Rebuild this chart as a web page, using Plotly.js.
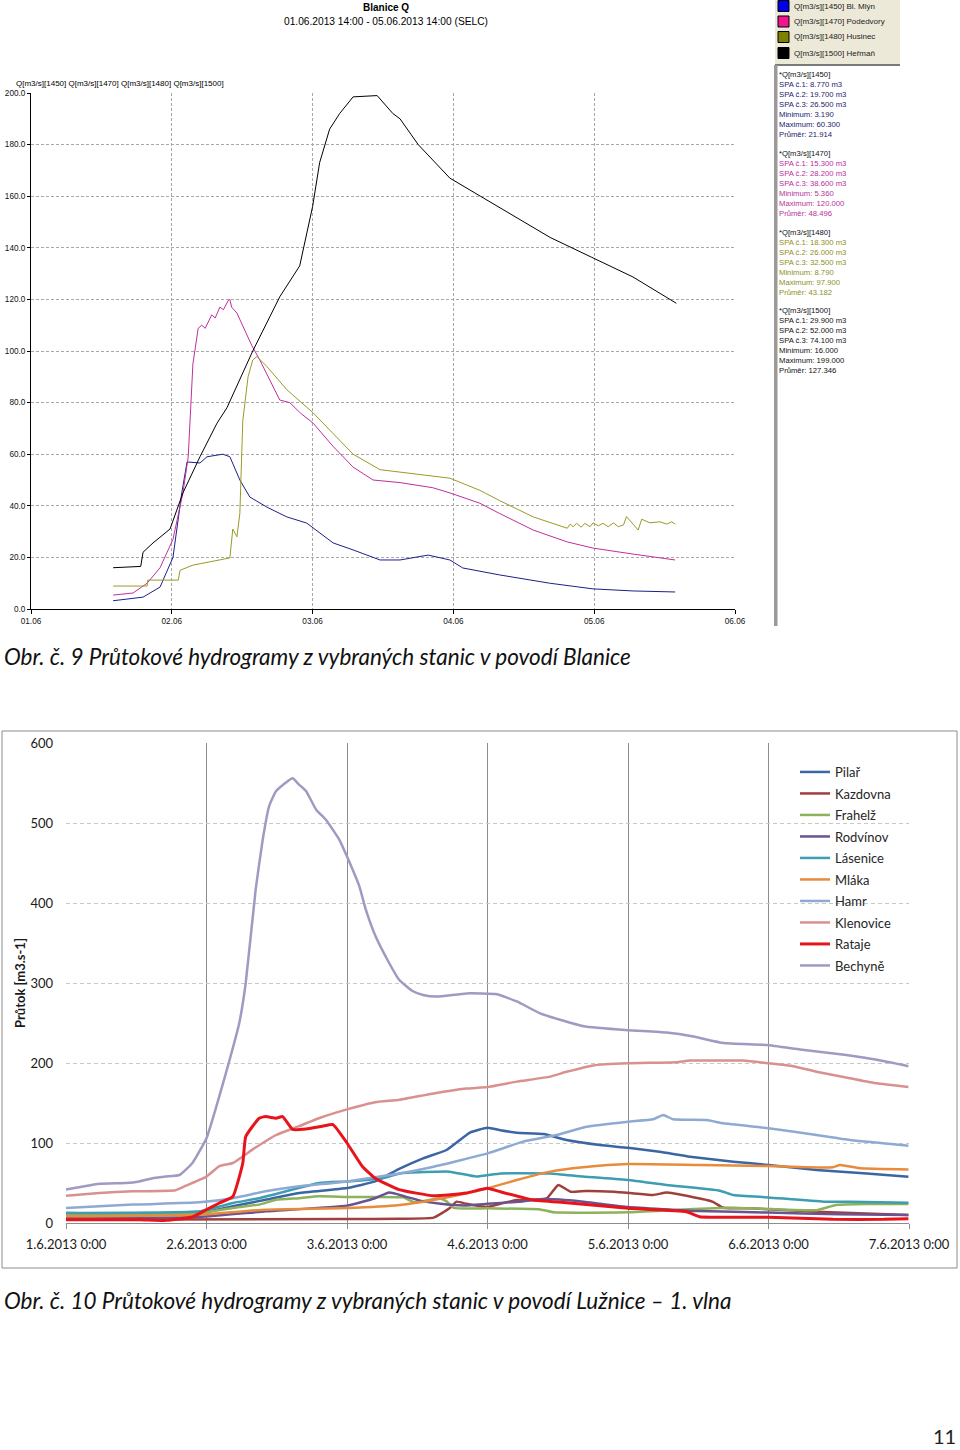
<!DOCTYPE html>
<html><head><meta charset="utf-8">
<script src="https://cdn.plot.ly/plotly-3.0.1.min.js"></script>
<style>html,body{margin:0;padding:0;background:#fff}#chart{width:960px;height:1450px}</style>
</head><body><div id="chart"></div>
<script>
// ---------- Chart 1: Blanice Q (hours since 01.06.2013 00:00) ----------
const blanTickVals = [0, 24, 48, 72, 96, 120];
const blanTickText = ['01.06', '02.06', '03.06', '04.06', '05.06', '06.06'];
const blanYTicks = [0, 20, 40, 60, 80, 100, 120, 140, 160, 180, 200];
const blanYTickText = ['0.0', '20.0', '40.0', '60.0', '80.0', '100.0', '120.0', '140.0', '160.0', '180.0', '200.0'];

const q1450_h = [14.0, 19.1, 22.0, 24.2, 25.7, 26.6, 28.8, 30.0, 32.7, 33.9, 35.6, 37.3, 40.2, 43.6, 47.0, 51.5, 54.9, 59.5, 62.9, 67.7, 71.4, 73.6, 79.9, 88.4, 95.8, 102.6, 109.8];
const q1450_v = [3.2, 4.6, 8.5, 20, 45, 57, 56.6, 59, 60, 59, 50, 43.4, 39.5, 35.7, 33.3, 25.6, 22.9, 19, 19, 20.9, 19, 15.9, 13.2, 10, 7.8, 7, 6.6];

const q1470_h = [14.0, 17.4, 19.8, 22.0, 24.2, 25.9, 26.8, 27.6, 28.5, 29.1, 29.7, 30.8, 31.4, 32.2, 32.8, 33.6, 33.9, 34.2, 35.1, 36.2, 36.8, 37.6, 39.0, 40.7, 42.4, 44.1, 45.9, 48.1, 51.5, 54.9, 58.3, 62.9, 68.5, 71.4, 76.5, 79.9, 85.6, 91.4, 95.8, 102.6, 109.8];
const q1470_v = [5.4, 6.2, 10, 16, 27, 45, 59, 95, 108.8, 110, 108.8, 114, 112.8, 117, 116, 119.5, 120, 117, 114.7, 109.4, 106, 102.3, 96.5, 89, 81, 80, 76, 72, 63, 55, 50, 49, 47, 45, 41, 37, 30.6, 26, 23.6, 21.3, 19];

const q1480_h = [14.0, 19.8, 19.9, 25.1, 25.4, 27.6, 33.9, 34.3, 34.4, 35.1, 35.6, 36.1, 37.0, 37.8, 38.5, 40.2, 43.6, 48.1, 51.5, 54.9, 59.5, 62.9, 71.4, 76.5, 79.9, 85.6, 91.4, 91.9, 92.4, 93.0, 93.8, 94.4, 95.3, 95.8, 96.7, 97.5, 98.4, 99.3, 100.1, 101.0, 101.5, 103.5, 104.1, 105.5, 107.2, 108.4, 109.2, 109.8];
const q1480_v = [8.9, 8.9, 11.2, 11.2, 15, 17, 19.8, 29.5, 31, 28, 37, 73, 90, 96.5, 97.9, 94, 85, 76, 68, 60, 54, 53, 50.7, 46, 42, 35.7, 31.3, 32.9, 31.9, 33.2, 31.7, 33.2, 31.9, 33.4, 32.2, 33.2, 31.9, 33.4, 31.9, 32.6, 35.8, 30.6, 34.8, 33.4, 33.8, 32.9, 33.8, 32.9];

const q1500_h = [14.0, 18.7, 19.1, 20.8, 23.7, 25.9, 28.8, 31.7, 33.4, 37.8, 42.4, 45.8, 48.0, 49.2, 50.9, 52.6, 54.9, 59.0, 61.7, 62.9, 66.0, 71.4, 76.6, 82.8, 88.5, 95.5, 102.6, 110.0];
const q1500_v = [16, 16.5, 22, 25.6, 31, 45, 59, 72, 78, 100, 121, 133, 156, 173, 186, 192, 198.5, 199, 192, 190, 180, 167, 160, 151.6, 144, 136.4, 128.7, 118.5];

const blanNames = ['Q[m3/s][1450] Bl. Mlýn', 'Q[m3/s][1470] Podedvory', 'Q[m3/s][1480] Husinec', 'Q[m3/s][1500] Heřmaň'];
const blanCodes = ['1450', '1470', '1480', '1500'];
const blanSPA1 = ['8.770', '15.300', '18.300', '29.900'];
const blanSPA2 = ['19.700', '28.200', '26.000', '52.000'];
const blanSPA3 = ['26.500', '38.600', '32.500', '74.100'];
const blanMin = ['3.190', '5.360', '8.790', '16.000'];
const blanMax = ['60.300', '120.000', '97.900', '199.000'];
const blanMean = ['21.914', '48.496', '43.182', '127.346'];

// ---------- Chart 2: Lužnice (hours since 1.6.2013 0:00) ----------
const luzTickVals = [0, 24, 48, 72, 96, 120, 144];
const luzTickText = ['1.6.2013 0:00', '2.6.2013 0:00', '3.6.2013 0:00', '4.6.2013 0:00', '5.6.2013 0:00', '6.6.2013 0:00', '7.6.2013 0:00'];
const luzYTicks = [0, 100, 200, 300, 400, 500, 600];

const pilar_h = [0, 22.8, 28.5, 34.1, 39.8, 48, 52.8, 57, 61, 65, 69, 72, 74.2, 77, 81.6, 85.5, 91.2, 96, 101.4, 106.6, 114, 120, 128.2, 136.8, 143.9];
const pilar_v = [12.5, 12.5, 21, 29, 37.5, 43.75, 52, 68, 80.8, 91.25, 113, 119, 116, 112.9, 111.25, 103.75, 97.5, 94, 89, 82.9, 76.7, 72.5, 66.25, 62, 57.9];
const kazdovna_h = [0, 48, 57, 62.8, 65.5, 66.7, 68.4, 72, 74.2, 77, 82.1, 84.1, 86.2, 88.8, 93.6, 97, 100.3, 102.6, 106.6, 110.4, 112.3, 116.8, 128.2, 143.9];
const kazdovna_v = [4.2, 5, 5.4, 6.7, 18.3, 26.7, 24, 20, 24, 28.75, 30.8, 47.5, 39, 40, 39, 37, 35, 38, 33, 26.7, 19, 18.3, 14, 10];
const frahelz_h = [0, 22.8, 28.5, 33, 35.9, 39.8, 43.2, 48, 57.6, 58.5, 59.5, 61.5, 63.8, 65, 66.2, 72, 81, 83.3, 96, 105.6, 114, 128.2, 131.5, 136.8, 143.9];
const frahelz_v = [11.7, 12.5, 18.75, 23, 29, 31, 33.3, 32.5, 32, 29, 26, 28, 30.8, 27, 19, 18.3, 17, 13.3, 13.3, 17, 19, 16, 22.5, 23.75, 23.75];
const rodvinov_h = [0, 22.8, 34.1, 48, 52.8, 55.2, 58, 60.5, 64, 68, 72, 78, 82, 88, 96, 108, 120, 132, 143.9];
const rodvinov_v = [6.25, 7.5, 14.6, 21.7, 31, 38, 33, 28, 24, 22, 24, 27, 30, 27, 20, 15, 13, 11, 10];
const lasenice_h = [0, 22.8, 28.5, 33, 37.6, 43.2, 48, 54.1, 57, 65.5, 70.1, 74.2, 82.7, 88.3, 96, 102.6, 111.7, 114, 120, 129.4, 133.9, 143.9];
const lasenice_v = [12.5, 14.6, 25, 31, 39.6, 50, 52, 56, 62, 64.2, 58, 62, 62, 58, 53.75, 47.5, 40.4, 35, 32, 26.7, 26.7, 25.4];
const mlaka_h = [0, 22.8, 34.1, 48, 57, 62.8, 68.4, 72, 77, 82.7, 88.3, 96, 108.2, 120, 131, 132.2, 135.6, 143.9];
const mlaka_v = [8.3, 10.4, 16.7, 18.75, 22.5, 28.75, 37, 43.3, 53.75, 64.2, 69.6, 73.75, 72.5, 71.25, 69.6, 72.5, 68.3, 67];
const hamr_h = [0, 11.4, 22.8, 28.5, 34.1, 39.8, 48, 57, 62.8, 72, 78.1, 83.8, 88.9, 96, 100.3, 102, 103.7, 109.4, 112.3, 120, 128.2, 133.9, 143.9];
const hamr_v = [18.75, 23, 25.8, 31, 39.6, 45.8, 52, 62, 70.4, 87, 101.7, 110, 120.4, 126.7, 129.6, 135, 129.6, 128.75, 124.6, 118.4, 110, 103.75, 96.7];
const klenovice_h = [0, 5.7, 11.4, 18.7, 20.5, 24, 26.2, 28.5, 31.9, 35.9, 39.8, 43.2, 48, 52.8, 57, 62.8, 68.4, 72, 77, 82.7, 85.5, 90.1, 96, 104.2, 106.6, 115.7, 120, 124.2, 128.2, 133.9, 138.5, 143.9];
const klenovice_v = [34, 37.5, 39.6, 41, 46.7, 58, 71, 75, 92, 110, 121, 131, 142, 151, 154, 162, 168, 170, 176.7, 183, 189, 197, 199.6, 201, 203, 203, 199.6, 196, 189, 181, 174.6, 170];
const rataje_h = [0, 12.5, 17, 21.6, 24, 26.2, 28.5, 30.2, 30.7, 33, 34.1, 35.9, 37, 38.7, 41, 43.8, 45.6, 48, 50.6, 52.8, 56.9, 62.8, 68.4, 72, 74.2, 79.8, 85.5, 96, 106, 108.2, 120, 131, 139.7, 143.9];
const rataje_v = [4.2, 4.2, 3.3, 7.5, 16.7, 25, 33, 75, 108, 131, 133, 131, 133, 117, 117.5, 121, 123, 100, 71, 56, 41.7, 34, 37.5, 43.3, 39, 28.75, 25.4, 18.3, 14, 7.9, 7.1, 4.6, 4.6, 5.4];
const bechyne_h = [0, 5.7, 10.3, 12.5, 14.8, 17, 19.4, 21.6, 24, 25.7, 27.8, 29.6, 30.7, 32.4, 33.6, 34.7, 35.9, 38.7, 39.8, 41, 42.7, 44.4, 46.7, 48, 50.1, 51.2, 52.9, 55.2, 56.9, 59.2, 61, 63.3, 68.4, 73.6, 77, 81, 84.4, 88.4, 96, 102.6, 107.2, 112.3, 119.7, 125.4, 133.3, 138.5, 143.9];
const bechyne_v = [41.7, 49, 50, 52, 56, 58, 60, 75, 106, 146, 200, 250, 300, 417, 479, 521, 540, 556, 548, 540, 517, 504, 479, 458, 421, 392, 358, 325, 304, 290, 285, 283, 287, 286, 277, 262, 254, 246, 241, 238, 233, 225, 222.5, 217, 210, 204, 196];

const luzNames = ['Pilař', 'Kazdovna', 'Frahelž', 'Rodvínov', 'Lásenice', 'Mláka', 'Hamr', 'Klenovice', 'Rataje', 'Bechyně'];

// ---------- styling ----------
const W = 960, H = 1450;
const px = x => x / W, py = y => 1 - y / H;

const blanLineColors = ['#1e1e8c', '#c0309c', '#9a9a28', '#000000'];
const blanBoxColors = ['#0000e8', '#f0158a', '#808000', '#000000'];
const blanTextColors = ['#22226e', '#b8309a', '#8f8f22', '#111111'];
const luzColors = ['#3b66a4', '#a0403d', '#8cb25a', '#6a5390', '#3c9db3', '#e88b3c', '#8eaad3', '#d8918e', '#e8141c', '#9f9ac2'];

const blanX = [q1450_h, q1470_h, q1480_h, q1500_h];
const blanY = [q1450_v, q1470_v, q1480_v, q1500_v];
const luzX = [pilar_h, kazdovna_h, frahelz_h, rodvinov_h, lasenice_h, mlaka_h, hamr_h, klenovice_h, rataje_h, bechyne_h];
const luzY = [pilar_v, kazdovna_v, frahelz_v, rodvinov_v, lasenice_v, mlaka_v, hamr_v, klenovice_v, rataje_v, bechyne_v];

const traces = [];
blanX.forEach((xs, i) => traces.push({
  x: xs, y: blanY[i], type: 'scatter', mode: 'lines', xaxis: 'x', yaxis: 'y',
  name: blanNames[i], showlegend: false, hoverinfo: 'skip',
  line: {color: blanLineColors[i], width: 1}
}));
luzX.forEach((xs, i) => traces.push({
  x: xs, y: luzY[i], type: 'scatter', mode: 'lines', xaxis: 'x2', yaxis: 'y2',
  name: luzNames[i], legend: 'legend2', legendgroup: 'g' + i, hoverinfo: 'skip',
  line: {color: luzColors[i], width: i === 8 ? 3 : 2.5, shape: 'spline', smoothing: 0.4}
}));

const f1 = 'Liberation Sans, Arial, sans-serif';
const f2 = 'Lato, Open Sans, sans-serif';

const shapes = [
  {type: 'rect', xref: 'paper', yref: 'paper', x0: px(2), x1: px(957), y0: py(1268), y1: py(731), line: {color: '#8c8c8c', width: 1}},
  {type: 'rect', xref: 'paper', yref: 'paper', x0: px(775), x1: px(900), y0: py(65), y1: py(0), fillcolor: '#ece9d8', line: {width: 0}},
  {type: 'line', xref: 'paper', yref: 'paper', x0: px(775), x1: px(900), y0: py(65), y1: py(65), line: {color: '#7a7a7a', width: 2}},
  {type: 'rect', xref: 'paper', yref: 'paper', x0: px(774), x1: px(777.5), y0: py(626), y1: py(65), fillcolor: '#9a9a9a', line: {width: 0}}
];
const legY = [6, 21.5, 37, 53];
blanBoxColors.forEach((c, i) => shapes.push({
  type: 'rect', xref: 'paper', yref: 'paper', x0: px(778), x1: px(789), y0: py(legY[i] + 5.5), y1: py(legY[i] - 5.5),
  fillcolor: c, line: {color: '#000', width: 1}
}));

const annotations = [
  {text: '<b>Blanice Q</b>', x: px(386), y: py(7), xref: 'paper', yref: 'paper', xanchor: 'center', yanchor: 'middle', showarrow: false, font: {family: f1, size: 10, color: '#000'}},
  {text: '01.06.2013 14:00 - 05.06.2013 14:00 (SELC)', x: px(386), y: py(21), xref: 'paper', yref: 'paper', xanchor: 'center', yanchor: 'middle', showarrow: false, font: {family: f1, size: 10.2, color: '#000'}},
  {text: blanCodes.map(c => 'Q[m3/s][' + c + ']').join(' '), x: px(14), y: py(84), xref: 'paper', yref: 'paper', xanchor: 'left', yanchor: 'middle', showarrow: false, font: {family: f1, size: 8, color: '#000'}},
  {text: '<i>Obr. č. 9 Průtokové hydrogramy z vybraných stanic v povodí Blanice</i>', x: px(2), y: py(657), xref: 'paper', yref: 'paper', xanchor: 'left', yanchor: 'middle', showarrow: false, font: {family: f2, size: 22.5, color: '#111'}},
  {text: '<i>Obr. č. 10 Průtokové hydrogramy z vybraných stanic v povodí Lužnice – 1. vlna</i>', x: px(2), y: py(1300), xref: 'paper', yref: 'paper', xanchor: 'left', yanchor: 'middle', showarrow: false, font: {family: f2, size: 22.5, color: '#111'}},
  {text: '11', x: px(944), y: py(1449), xref: 'paper', yref: 'paper', xanchor: 'center', yanchor: 'bottom', borderpad: 0, showarrow: false, font: {family: f2, size: 20, color: '#222'}}
];
blanNames.forEach((n, i) => annotations.push({
  text: n, x: px(792), y: py(legY[i]), xref: 'paper', yref: 'paper', xanchor: 'left', yanchor: 'middle', showarrow: false,
  font: {family: f1, size: 8, color: '#222'}
}));
blanCodes.forEach((c, i) => {
  const col = blanTextColors[i];
  const lines = [
    '<span style="color:#111">*Q[m3/s][' + c + ']</span>',
    'SPA č.1: ' + blanSPA1[i] + ' m3',
    'SPA č.2: ' + blanSPA2[i] + ' m3',
    'SPA č.3: ' + blanSPA3[i] + ' m3',
    'Minimum: ' + blanMin[i],
    'Maximum: ' + blanMax[i],
    'Průměr: ' + blanMean[i]
  ];
  annotations.push({
    text: lines.join('<br>'), x: px(777), y: py(67.5 + i * 79), xref: 'paper', yref: 'paper', xanchor: 'left', yanchor: 'top',
    align: 'left', showarrow: false, font: {family: f1, size: 7.7, color: col}
  });
});

const layout = {
  width: W, height: H, margin: {l: 0, r: 0, t: 0, b: 0}, paper_bgcolor: '#fff', plot_bgcolor: 'rgba(0,0,0,0)',
  showlegend: true,
  xaxis: {domain: [px(31), px(735)], range: [0, 120], anchor: 'y', tickmode: 'array', tickvals: blanTickVals, ticktext: blanTickText,
    showline: true, linecolor: '#000', linewidth: 1, ticks: 'outside', ticklen: 4, tickcolor: '#000',
    tickfont: {family: f1, size: 8.2, color: '#111'}, showgrid: true, gridcolor: '#a8a8a8', griddash: '3px,2px', zeroline: false, fixedrange: true},
  yaxis: {domain: [py(609), py(93)], range: [0, 200], anchor: 'x', tickmode: 'array', tickvals: blanYTicks, ticktext: blanYTickText,
    showline: true, linecolor: '#000', linewidth: 1, ticks: 'outside', ticklen: 3, tickcolor: '#000',
    tickfont: {family: f1, size: 8.2, color: '#111'}, showgrid: true, gridcolor: '#a8a8a8', griddash: '3px,2px', zeroline: false, fixedrange: true},
  xaxis2: {domain: [px(66), px(909)], range: [0, 144], anchor: 'y2', tickmode: 'array', tickvals: luzTickVals, ticktext: luzTickText,
    showline: true, linecolor: '#8c8c8c', linewidth: 1, ticks: 'outside', ticklen: 5, tickcolor: '#8c8c8c', ticklabelstandoff: 4,
    tickfont: {family: f2, size: 13, color: '#1a1a1a'}, showgrid: true, gridcolor: '#8c8c8c', gridwidth: 1, zeroline: false, fixedrange: true},
  yaxis2: {domain: [py(1223), py(743)], range: [0, 600], anchor: 'x2', tickmode: 'array', tickvals: luzYTicks,
    showline: false, ticks: '', ticklabelstandoff: 12,
    tickfont: {family: f2, size: 13, color: '#1a1a1a'}, showgrid: true, gridcolor: '#c8c8c8', griddash: '4px,3px', zeroline: false, fixedrange: true,
    title: {text: '<b>Průtok [m3.s-1]</b>', font: {family: f2, size: 13, color: '#1a1a1a'}, standoff: 1}},
  legend2: {x: px(795), y: py(757), xanchor: 'left', yanchor: 'top', xref: 'paper', yref: 'paper', bgcolor: 'rgba(0,0,0,0)',
    font: {family: f2, size: 13, color: '#262626'}, traceorder: 'grouped', tracegroupgap: 1.6, itemwidth: 30},
  shapes: shapes,
  annotations: annotations
};

Plotly.newPlot('chart', traces, layout, {staticPlot: true, displayModeBar: false});
</script></body></html>
